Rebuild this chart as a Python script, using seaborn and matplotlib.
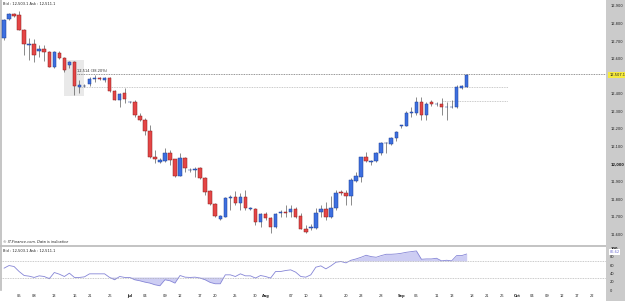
import matplotlib
matplotlib.use("Agg")
import matplotlib.pyplot as plt
from matplotlib.patches import Rectangle
import seaborn as sns
import numpy as np
import pandas as pd

sns.set_theme(style="white")
plt.rcParams['font.family'] = ['DejaVu Sans']

# daily candles (Sun-Fri sessions)
opens = [12718, 12826, 12854, 12849, 12763, 12680, 12683, 12645, 12655, 12638,
         12552, 12632, 12604, 12564, 12581, 12438, 12444, 12455, 12484, 12487,
         12478, 12490, 12416, 12364, 12404, 12350, 12353, 12273, 12250, 12188,
         12039, 12011, 12017, 12062, 12028, 11931, 12034, 11965, 11968, 11977,
         11920, 11846, 11771, 11686, 11697, 11806, 11811, 11777, 11811, 11743,
         11743, 11669, 11714, 11692, 11640, 11720, 11726, 11726, 11743, 11703,
         11629, 11635, 11635, 11726, 11743, 11697, 11749, 11840, 11834, 11817,
         11903, 11925, 12039, 12011, 12017, 12062, 12119, 12113, 12148, 12216,
         12216, 12290, 12290, 12353, 12279, 12353, 12341, 12341, 12324, 12324,
         12324, 12433, 12438]
highs = [12826, 12860, 12860, 12871, 12770, 12718, 12712, 12678, 12678, 12644,
         12644, 12644, 12610, 12587, 12587, 12478, 12455, 12495, 12507, 12495,
         12495, 12495, 12420, 12404, 12433, 12360, 12364, 12290, 12262, 12222,
         12079, 12034, 12091, 12079, 12030, 12062, 12039, 11977, 11983, 11983,
         11925, 11851, 11777, 11709, 11811, 11823, 11846, 11834, 11851, 11755,
         11749, 11720, 11726, 11697, 11720, 11737, 11766, 11766, 11755, 11720,
         11652, 11658, 11749, 11766, 11783, 11817, 11851, 11851, 11851, 11920,
         11954, 12039, 12068, 12022, 12068, 12125, 12125, 12153, 12188, 12222,
         12302, 12324, 12381, 12381, 12353, 12364, 12353, 12376, 12353, 12364,
         12450, 12450, 12510]
lows = [12706, 12820, 12837, 12763, 12621, 12592, 12581, 12609, 12587, 12552,
        12547, 12598, 12524, 12547, 12393, 12404, 12438, 12444, 12467, 12478,
        12467, 12410, 12364, 12324, 12347, 12345, 12267, 12245, 12165, 12034,
        12005, 12005, 12011, 11994, 11925, 11931, 11954, 11954, 11925, 11914,
        11823, 11766, 11697, 11680, 11697, 11737, 11766, 11737, 11737, 11737,
        11652, 11640, 11680, 11606, 11635, 11697, 11697, 11697, 11692, 11629,
        11606, 11623, 11629, 11697, 11680, 11692, 11737, 11823, 11766, 11766,
        11897, 11897, 12011, 11994, 12011, 12051, 12062, 12108, 12131, 12205,
        12216, 12267, 12279, 12250, 12250, 12330, 12330, 12279, 12250, 12318,
        12318, 12427, 12438]
closes = [12820, 12854, 12843, 12763, 12683, 12686, 12621, 12652, 12638, 12552,
          12638, 12604, 12535, 12581, 12444, 12450, 12446, 12484, 12487, 12484,
          12490, 12416, 12364, 12398, 12370, 12355, 12279, 12250, 12188, 12039,
          12028, 12022, 12062, 12022, 11931, 12034, 11977, 11968, 11973, 11920,
          11840, 11771, 11703, 11703, 11806, 11811, 11777, 11811, 11749, 11746,
          11669, 11714, 11692, 11640, 11714, 11726, 11723, 11743, 11697, 11629,
          11612, 11638, 11720, 11743, 11697, 11749, 11834, 11834, 11817, 11908,
          11931, 12039, 12017, 12014, 12062, 12119, 12122, 12148, 12182, 12219,
          12290, 12293, 12353, 12279, 12341, 12341, 12344, 12324, 12327, 12327,
          12438, 12444, 12507]

# oscillator in the lower panel
rsi = [52.5, 58.9, 56.5, 44.5, 34.9, 33.3, 30.2, 34.1, 32.5, 27.0,
       42.1, 38.1, 32.5, 40.5, 30.2, 30.2, 31.7, 38.9, 38.9, 38.9,
       38.9, 30.2, 24.6, 32.5, 30.2, 30.2, 24.6, 22.2, 19.0, 16.6,
       12.6, 10.2, 24.6, 22.2, 16.6, 34.9, 30.9, 30.2, 30.9, 28.6,
       24.6, 18.2, 15.0, 15.0, 36.5, 36.5, 32.5, 38.9, 34.1, 34.1,
       28.6, 34.9, 32.5, 28.6, 44.5, 44.5, 46.9, 48.5, 42.9, 32.5,
       30.9, 36.5, 54.9, 58.1, 50.9, 58.1, 66.9, 68.5, 65.3, 71.6,
       74.8, 78.8, 83.6, 80.4, 78.8, 82.8, 86.0, 86.0, 86.8, 88.4,
       90.8, 92.4, 94.0, 74.0, 74.8, 74.8, 76.4, 70.1, 71.6, 70.1,
       82.8, 82.8, 86.6]

tick_pos = [3, 6, 10, 14, 17, 21, 25, 28, 32, 35, 39, 42, 46, 50, 52, 57, 60,
            63, 68, 71, 75, 79, 82, 86, 89, 93, 96, 99, 102, 105, 108, 111, 114, 117]
tick_labels = ["05", "08", "13", "16", "21", "26", "Jul", "04", "09", "12", "17",
               "20", "25", "30", "Aug", "07", "10", "15", "20", "23", "28", "Sep",
               "06", "11", "13", "18", "21", "26", "Oct", "04", "09", "12", "17", "22"]
months = ["Jul", "Aug", "Sep", "Oct"]

price_ticks = [11600, 11700, 11800, 11900, 12000, 12100, 12200, 12300, 12400,
               12600, 12700, 12800, 12900]
rsi_ticks = [0, 20, 40, 60, 80, 100]
last_price = 12507.1
last_rsi = 86.62
fib_level = 12512
fib_text = "12,514 (38.20%)"
level_2 = 12438
level_3 = 12358
zone = (12, 16, 12387, 12592)   # first day, last day, low, high

fs = 2.6

df = pd.DataFrame({"day": np.arange(len(opens)), "open": opens, "high": highs,
                   "low": lows, "close": closes, "rsi": rsi})
up = df["close"] >= df["open"]

fig = plt.figure(figsize=(6.25, 3.01), dpi=100)
fig.patch.set_facecolor("white")
fig.patches.append(Rectangle((606 / 625, 0), 19 / 625, 1, transform=fig.transFigure,
                             facecolor="#cbcbcb", edgecolor="none", zorder=-5))
fig.patches.append(Rectangle((0, 1 - 247 / 301), 606 / 625, 2 / 301, transform=fig.transFigure,
                             facecolor="#c4c4c4", edgecolor="none", zorder=-5))

ax = fig.add_axes([1 / 625, 1 - 245 / 301, 605 / 625, 245 / 301])
ax2 = fig.add_axes([1 / 625, 1 - 290 / 301, 605 / 625, 43 / 301])
xlim = (-0.6, 119.7)

# ---- price panel
ax.add_patch(Rectangle((zone[0], zone[2]), zone[1] - zone[0], zone[3] - zone[2],
                       facecolor="#e9e9e9", edgecolor="none", zorder=0))
ax.hlines(fib_level, 14.5, xlim[1], colors="#555555", linestyles=(0, (1.2, 1.2)), lw=0.5)
ax.text(14.6, fib_level + 8, fib_text, fontsize=fs, color="#333333", va="bottom")
ax.hlines(level_2, 15.1, 100.2, colors="#aaaaaa", linestyles=(0, (1.2, 1.2)), lw=0.5)
ax.hlines(level_3, 87.3, 100.2, colors="#aaaaaa", linestyles=(0, (1.2, 1.2)), lw=0.5)

ax.vlines(df["day"], df["low"], df["high"], colors="#4a4a4a", lw=0.45, zorder=2)
ax.bar(df["day"], df["close"] - df["open"], bottom=df["open"], width=0.7,
       color=np.where(up, "#3d6fe0", "#e54646"),
       edgecolor=np.where(up, "#1f3f95", "#8c1e1e"), linewidth=0.35, zorder=3)

ax.set_xlim(*xlim)
ax.set_ylim(11538, 12934)
ax.yaxis.tick_right()
ax.set_yticks(price_ticks)
ax.set_yticklabels([f"{v:,}" for v in price_ticks], fontsize=fs, color="#222222")
for lab, v in zip(ax.get_yticklabels(), price_ticks):
    if v == 12000:
        lab.set_fontweight("bold")
ax.tick_params(axis="y", length=0, pad=3)
ax.set_xticks([])
for s in ["top", "right", "bottom"]:
    ax.spines[s].set_visible(False)
ax.spines["left"].set_color("#bbbbbb")
ax.spines["left"].set_linewidth(1.2)
ax.annotate(f"{last_price:,.1f}", xy=(1.0, last_price), xycoords=("axes fraction", "data"),
            xytext=(2.5, 0), textcoords="offset points", fontsize=fs, va="center",
            ha="left", color="#222222", annotation_clip=False,
            bbox=dict(boxstyle="square,pad=0.3", facecolor="#f6ea3c", edgecolor="none"))
ax.text(0.003, 0.992, "Bid : 12,503.1 Ask : 12,511.1", transform=ax.transAxes,
        fontsize=fs, va="top", color="#222222")
ax.text(0.003, 0.004, "© IT-Finance.com. Data is indicative", transform=ax.transAxes,
        fontsize=fs, va="bottom", style="italic", color="#222222")

# ---- oscillator panel
sns.lineplot(data=df, x="day", y="rsi", ax=ax2, color="#8585d6", lw=0.6)
ax2.fill_between(df["day"], df["rsi"], 70, where=df["rsi"] > 70, interpolate=True,
                 color="#cdcdf3", lw=0)
ax2.fill_between(df["day"], df["rsi"], 30, where=df["rsi"] < 30, interpolate=True,
                 color="#cdcdf3", lw=0)
ax2.axhline(70, color="#aaaaaa", ls=(0, (1.2, 1.2)), lw=0.5)
ax2.axhline(30, color="#aaaaaa", ls=(0, (1.2, 1.2)), lw=0.5)
ax2.set_xlim(*xlim)
ax2.set_ylim(0.5, 103.5)
ax2.set_xlabel("")
ax2.set_ylabel("")
ax2.yaxis.tick_right()
ax2.set_yticks(rsi_ticks)
ax2.set_yticklabels([str(v) for v in rsi_ticks], fontsize=fs, color="#222222")
ax2.get_yticklabels()[-1].set_fontweight("bold")
ax2.tick_params(axis="y", length=0, pad=3)
ax2.set_xticks(tick_pos)
ax2.set_xticklabels(tick_labels, fontsize=fs, color="#222222")
for lab in ax2.get_xticklabels():
    if lab.get_text() in months:
        lab.set_fontweight("bold")
ax2.tick_params(axis="x", length=0, pad=3)
for s in ["top", "right", "bottom"]:
    ax2.spines[s].set_visible(False)
ax2.spines["left"].set_color("#bbbbbb")
ax2.spines["left"].set_linewidth(1.2)
ax2.annotate(f"{last_rsi:.2f}", xy=(1.0, last_rsi), xycoords=("axes fraction", "data"),
             xytext=(2.5, 1.5), textcoords="offset points", fontsize=fs, va="center",
             ha="left", color="#6f6fd0", annotation_clip=False,
             bbox=dict(boxstyle="square,pad=0.2", facecolor="white", edgecolor="none"))
ax2.text(0.003, 0.96, "Bid : 12,503.1 Ask : 12,511.1", transform=ax2.transAxes,
         fontsize=fs, va="top", color="#222222")

fig.savefig("out.png", dpi=100, facecolor="white")
